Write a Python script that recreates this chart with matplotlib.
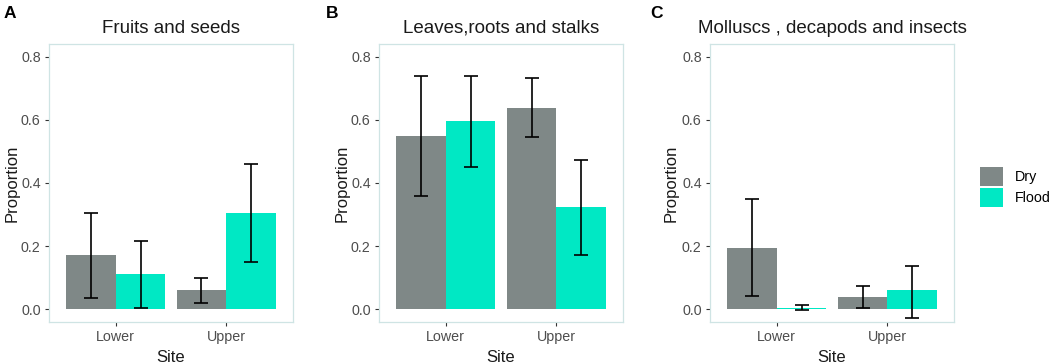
import matplotlib
matplotlib.use("Agg")
import matplotlib.pyplot as plt
from matplotlib.patches import Patch
import numpy as np

plt.rcParams["font.family"] = ["Liberation Sans", "DejaVu Sans"]

sites = ["Lower", "Upper"]
groups = ["Dry", "Flood"]
titles = ["Fruits and seeds", "Leaves,roots and stalks", "Molluscs , decapods and insects"]
letters = ["A", "B", "C"]

fruits_dry = [0.171, 0.061]
fruits_flood = [0.110, 0.306]
fruits_dry_lo = [0.036, 0.020]
fruits_dry_hi = [0.306, 0.100]
fruits_flood_lo = [0.002, 0.148]
fruits_flood_hi = [0.217, 0.460]

leaves_dry = [0.550, 0.638]
leaves_flood = [0.596, 0.324]
leaves_dry_lo = [0.360, 0.545]
leaves_dry_hi = [0.741, 0.733]
leaves_flood_lo = [0.450, 0.171]
leaves_flood_hi = [0.741, 0.472]

moll_dry = [0.195, 0.037]
moll_flood = [0.003, 0.059]
moll_dry_lo = [0.040, 0.003]
moll_dry_hi = [0.349, 0.073]
moll_flood_lo = [-0.004, -0.027]
moll_flood_hi = [0.014, 0.138]

yticks = [0.0, 0.2, 0.4, 0.6, 0.8]

panels = [
    (fruits_dry, fruits_flood, fruits_dry_lo, fruits_dry_hi, fruits_flood_lo, fruits_flood_hi),
    (leaves_dry, leaves_flood, leaves_dry_lo, leaves_dry_hi, leaves_flood_lo, leaves_flood_hi),
    (moll_dry, moll_flood, moll_dry_lo, moll_dry_hi, moll_flood_lo, moll_flood_hi),
]

col_dry = "#7f8887"
col_flood = "#00e8c4"
border = "#cfe4e4"
tick_col = "#4d4d4d"

W, H = 1052, 364
fig = plt.figure(figsize=(W / 100, H / 100), dpi=100)
lefts = [49, 379, 710]
aw = 244
top_px, bot_px = 44, 322
letter_x = [4, 326, 650]
ylab_x = [12, 342, 671]

for i, (d, f, dlo, dhi, flo, fhi) in enumerate(panels):
    ax = fig.add_axes([lefts[i] / W, 1 - bot_px / H, aw / W, (bot_px - top_px) / H])
    x = np.arange(1, len(sites) + 1)
    bw = 0.45
    xd = x - bw / 2
    xf = x + bw / 2
    ax.bar(xd, d, width=bw, color=col_dry, zorder=2)
    ax.bar(xf, f, width=bw, color=col_flood, zorder=2)
    ax.errorbar(xd, d, yerr=[np.array(d) - np.array(dlo), np.array(dhi) - np.array(d)],
                fmt="none", ecolor="black", elinewidth=1.2, capsize=5, capthick=1.2, zorder=3)
    ax.errorbar(xf, f, yerr=[np.array(f) - np.array(flo), np.array(fhi) - np.array(f)],
                fmt="none", ecolor="black", elinewidth=1.2, capsize=5, capthick=1.2, zorder=3)
    ax.set_xlim(0.4, 2.6)
    ax.set_ylim(-0.041, 0.841)
    ax.set_xticks(x)
    ax.set_xticklabels(sites)
    ax.set_yticks(yticks)
    ax.set_yticklabels([f"{v:.1f}" for v in yticks])
    ax.tick_params(axis="both", colors="#333333", labelcolor=tick_col, labelsize=10.3,
                   length=3, width=0.8, direction="out", pad=3)
    for s in ax.spines.values():
        s.set_color(border)
        s.set_linewidth(0.9)
    ax.set_xlabel("Site", fontsize=12, color="#1a1a1a")
    ax.xaxis.set_label_coords(0.5, 1 - (357 - top_px) / (bot_px - top_px), transform=ax.transAxes)
    ax.xaxis.label.set_va("center")
    ax.set_ylabel("Proportion", fontsize=12, color="#1a1a1a")
    ax.yaxis.set_label_coords((ylab_x[i] - lefts[i]) / aw, 0.5, transform=ax.transAxes)
    ax.yaxis.label.set_va("center")
    ax.set_title(titles[i], fontsize=13.5, color="#1a1a1a", pad=8)
    fig.text(letter_x[i] / W, 1 - 13 / H, letters[i], fontsize=12.5, fontweight="bold",
             va="center", ha="left")

handles = [Patch(facecolor=col_dry, edgecolor="none"), Patch(facecolor=col_flood, edgecolor="none")]
fig.legend(handles, groups, loc="center left", bbox_to_anchor=(974 / W, 1 - 187 / H),
           frameon=False, fontsize=10.3, handlelength=1.65, handleheight=1.65,
           labelspacing=0.15, handletextpad=0.8, borderaxespad=0)

fig.savefig("out.png", dpi=100)
